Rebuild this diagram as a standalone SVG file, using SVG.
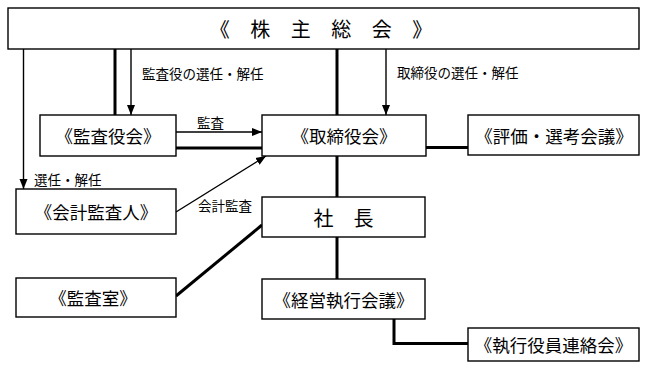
<svg xmlns="http://www.w3.org/2000/svg" width="648" height="370" viewBox="0 0 648 370">
<defs>
<marker id="ah" markerUnits="userSpaceOnUse" markerWidth="10" markerHeight="10" viewBox="0 0 10 10" refX="10" refY="5" orient="auto">
<path d="M0,1 L10,5 L0,9 Z" fill="#000"/>
</marker>
</defs>
<style>
.box{fill:#fff;stroke:#000;stroke-width:1.4}
.t{font-family:"Noto Sans CJK JP","Noto Sans CJK SC",sans-serif;font-size:17.5px;fill:#000;text-anchor:middle;dominant-baseline:central}
.lb{font-family:"Noto Sans CJK JP","Noto Sans CJK SC",sans-serif;font-size:13.5px;fill:#000;dominant-baseline:central}
.thin{fill:none;stroke:#000;stroke-width:1.4}
.thick{fill:none;stroke:#000;stroke-width:3}
</style>
<rect width="648" height="370" fill="#fff"/>
<g id="connectors">
<line class="thin" x1="23.5" y1="49" x2="23.5" y2="189" marker-end="url(#ah)"/>
<line class="thick" x1="115" y1="49" x2="115" y2="115"/>
<line class="thin" x1="131" y1="49" x2="131" y2="115" marker-end="url(#ah)"/>
<line class="thick" x1="337" y1="49" x2="337" y2="115"/>
<line class="thin" x1="386" y1="49" x2="386" y2="115" marker-end="url(#ah)"/>
<line class="thin" x1="176" y1="132" x2="262" y2="132" marker-end="url(#ah)"/>
<line class="thick" x1="176" y1="148" x2="262" y2="148"/>
<line class="thin" x1="176" y1="212" x2="266" y2="156" marker-end="url(#ah)"/>
<line class="thick" x1="426" y1="147.5" x2="468" y2="147.5"/>
<line class="thick" x1="337" y1="156" x2="337" y2="197"/>
<line class="thick" x1="176" y1="296" x2="262" y2="225"/>
<line class="thick" x1="337" y1="237" x2="337" y2="279"/>
<polyline class="thick" points="394,319 394,343.5 468,343.5"/>
<text class="lb" x="142" y="73">監査役の選任・解任</text>
<text class="lb" x="397" y="72">取締役の選任・解任</text>
<text class="lb" x="197" y="122">監査</text>
<text class="lb" x="198" y="205">会計監査</text>
<text class="lb" x="34" y="179">選任・解任</text>
</g>
<g id="kabunushi-sokai">
<rect class="box" x="8" y="8" width="631" height="41"/>
<text class="t" x="325" y="28.5" style="font-size:20px;letter-spacing:8px">《 株 主 総 会 》</text>
</g>
<g id="kansayakukai">
<rect class="box" x="40" y="115" width="136" height="41"/>
<text class="t" x="108" y="135.5">《監査役会》</text>
</g>
<g id="torishimariyakukai">
<rect class="box" x="262" y="115" width="164" height="41"/>
<text class="t" x="344" y="135.5">《取締役会》</text>
</g>
<g id="hyoka-senko">
<rect class="box" x="468" y="115" width="171" height="40"/>
<text class="t" x="554" y="135">《評価・選考会議》</text>
</g>
<g id="kaikei-kansanin">
<rect class="box" x="16" y="189" width="160" height="45"/>
<text class="t" x="96" y="211.5">《会計監査人》</text>
</g>
<g id="shacho">
<rect class="box" x="262" y="197" width="163" height="40"/>
<text class="t" x="343.5" y="217" style="font-size:20px">社　長</text>
</g>
<g id="kansashitsu">
<rect class="box" x="16" y="278" width="160" height="39"/>
<text class="t" x="93" y="297.5">《監査室》</text>
</g>
<g id="keiei-shikko">
<rect class="box" x="262" y="279" width="163" height="40"/>
<text class="t" x="343.5" y="299">《経営執行会議》</text>
</g>
<g id="shikko-yakuin">
<rect class="box" x="468" y="328" width="171" height="33"/>
<text class="t" x="553.5" y="344.5">《執行役員連絡会》</text>
</g>
</svg>
